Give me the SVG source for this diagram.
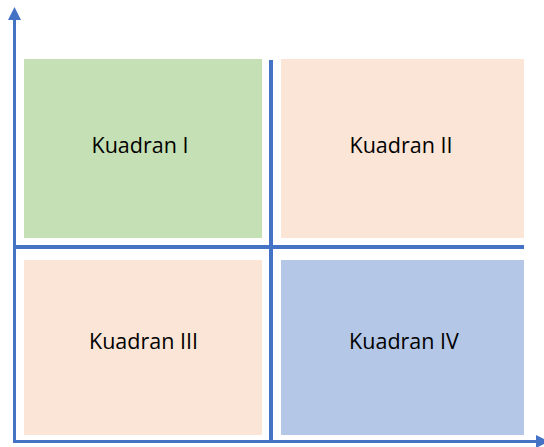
<svg xmlns="http://www.w3.org/2000/svg" width="544" height="447" viewBox="0 0 544 447">
<style>
.lbl{font-family:"Open Sans","Liberation Sans",sans-serif;font-size:21.5px;fill:#000000;text-anchor:middle}
.ax{stroke:#4472C4;fill:none}
</style>
<rect width="544" height="447" fill="#ffffff"/>
<g id="q1"><rect x="24" y="59" width="238" height="179" fill="#C5E0B4"/><text class="lbl" x="140" y="153">Kuadran I</text></g>
<g id="q2"><rect x="281" y="59" width="243" height="179" fill="#FBE5D6"/><text class="lbl" x="401" y="153">Kuadran II</text></g>
<g id="q3"><rect x="24" y="260" width="238" height="175" fill="#FBE5D6"/><text class="lbl" x="143.5" y="349">Kuadran III</text></g>
<g id="q4"><rect x="281" y="260" width="243" height="175" fill="#B4C7E7"/><text class="lbl" x="404" y="349">Kuadran IV</text></g>
<g id="connectors">
<line class="ax" x1="14.5" y1="443" x2="14.5" y2="19" stroke-width="3"/>
<polygon points="8,20 14.5,7 21,20" fill="#4472C4"/>
<line class="ax" x1="13" y1="441.5" x2="537" y2="441.5" stroke-width="3"/>
<polygon points="536,435 549,441.5 536,448" fill="#4472C4"/>
<line class="ax" x1="271" y1="60" x2="271" y2="441" stroke-width="4"/>
<line class="ax" x1="15" y1="247" x2="524" y2="247" stroke-width="4"/>
</g>
</svg>
